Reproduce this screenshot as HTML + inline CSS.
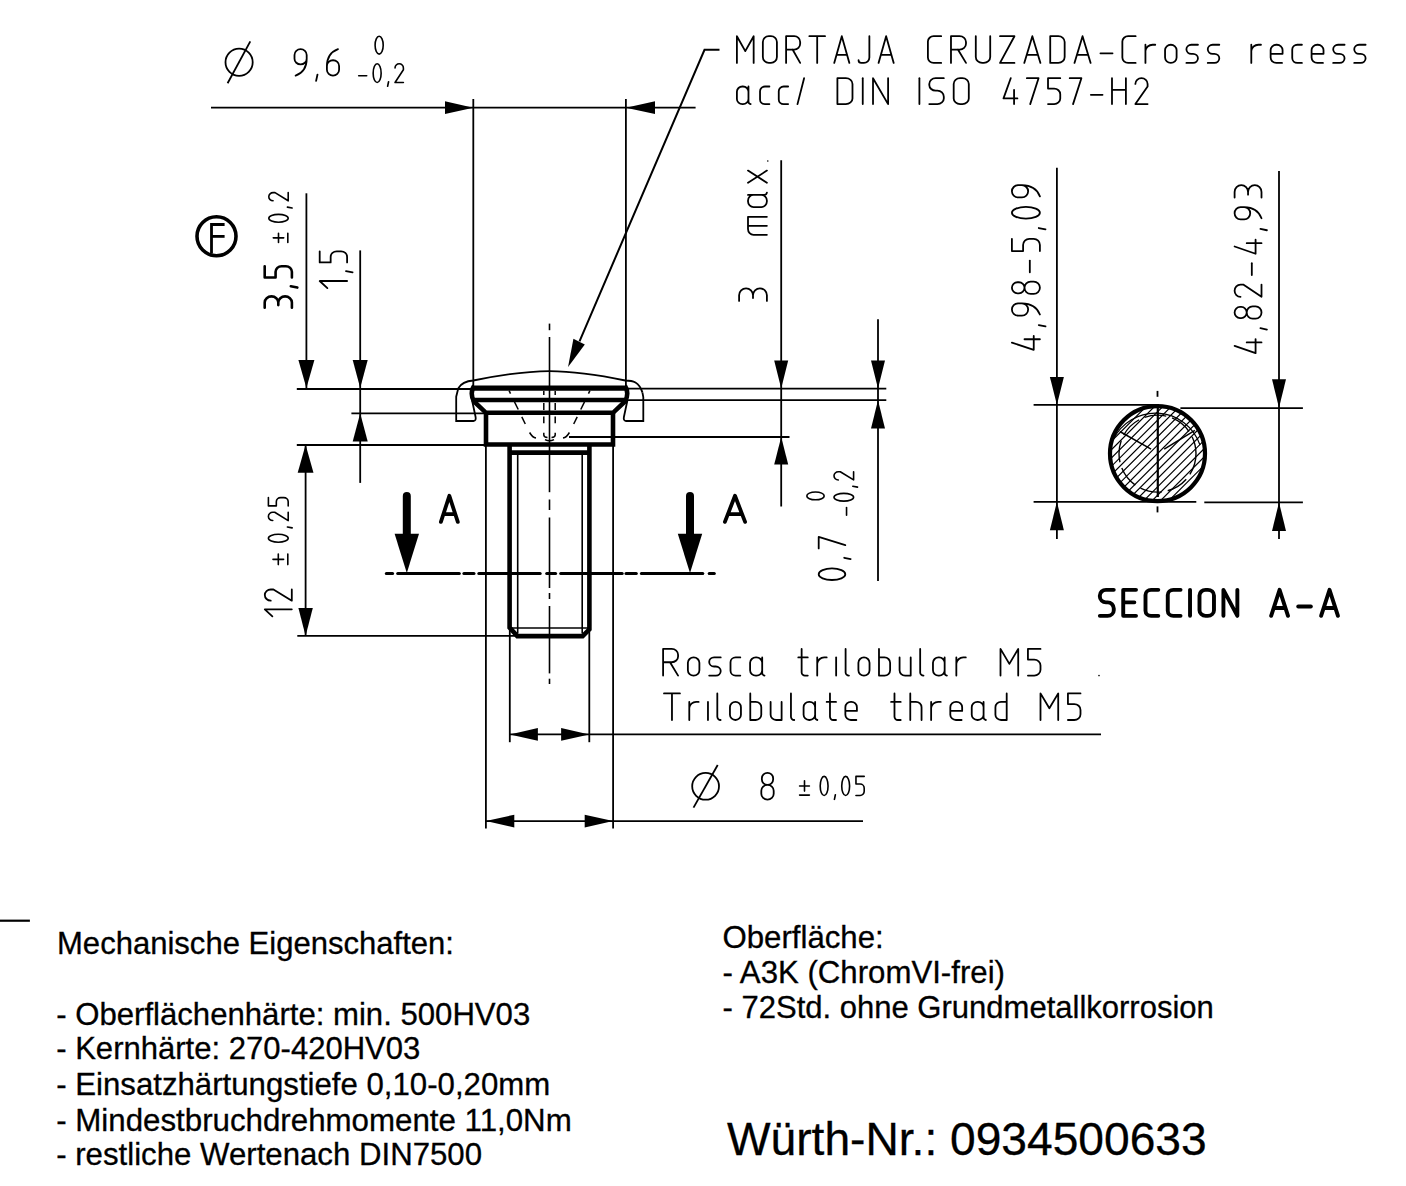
<!DOCTYPE html>
<html><head><meta charset="utf-8">
<style>
html,body{margin:0;padding:0;background:#fff;width:1406px;height:1186px;overflow:hidden}
svg{position:absolute;left:0;top:0}
svg line, svg path, svg circle{stroke:#000}
.t path{fill:none;vector-effect:non-scaling-stroke;stroke-linecap:round;stroke-linejoin:round}
.ah{fill:#000;stroke:none !important}
.txt{position:absolute;-webkit-text-stroke:0.3px #000;font-family:"Liberation Sans",sans-serif;color:#000;white-space:pre;line-height:1}
</style></head><body>
<svg width="1406" height="1186" viewBox="0 0 1406 1186">
<line x1="211" y1="107.7" x2="695.6" y2="107.7" stroke-width="1.8" />
<line x1="473.3" y1="99" x2="473.3" y2="386" stroke-width="1.8" />
<line x1="625.9" y1="99" x2="625.9" y2="386" stroke-width="1.8" />
<path class="ah" d="M473.3,107.7 L445,101.3 L445,114.10000000000001 Z"/>
<path class="ah" d="M625.9,107.7 L655,101.3 L655,114.10000000000001 Z"/>
<path d="M719.5,49.8 L704.5,49.8 L579.5,341.3" stroke-width="2" fill="none"/>
<path class="ah" d="M568.1,366.9 L573.4,338.8 L584.8,344.5 Z"/>
<circle cx="216.5" cy="236.2" r="19.5" fill="none" stroke-width="3.6"/>
<path d="M224.6,224.5 L211.5,224.5 L211.5,253.6" stroke-width="2.8" fill="none"/>
<line x1="211.5" y1="236.4" x2="224.6" y2="236.4" stroke-width="2.8" />
<line x1="306.4" y1="193.3" x2="306.4" y2="388" stroke-width="1.8" />
<path class="ah" d="M306.4,388 L298.4,360 L314.4,360 Z"/>
<line x1="360.2" y1="250.4" x2="360.2" y2="482.9" stroke-width="1.8" />
<path class="ah" d="M360.2,388 L352.7,360 L367.7,360 Z"/>
<path class="ah" d="M360.2,413.3 L352.7,441.5 L367.7,441.5 Z"/>
<line x1="296.8" y1="389" x2="471" y2="389" stroke-width="1.8" />
<line x1="351.4" y1="413.3" x2="486" y2="413.3" stroke-width="1.8" />
<line x1="296.8" y1="445" x2="486" y2="445" stroke-width="1.8" />
<line x1="305.6" y1="444.8" x2="305.6" y2="635.9" stroke-width="1.8" />
<path class="ah" d="M305.6,444.8 L297.70000000000005,472.7 L313.5,472.7 Z"/>
<path class="ah" d="M305.6,635.9 L298.40000000000003,608 L312.8,608 Z"/>
<line x1="297.3" y1="635.9" x2="517" y2="635.9" stroke-width="1.8" />
<line x1="627" y1="388.6" x2="886.3" y2="388.6" stroke-width="1.8" />
<line x1="627" y1="400.2" x2="886.3" y2="400.2" stroke-width="1.8" />
<line x1="569" y1="437" x2="789.5" y2="437" stroke-width="1.8" />
<line x1="781.2" y1="160.3" x2="781.2" y2="506.5" stroke-width="1.8" />
<path class="ah" d="M781.2,388.5 L774.2,360.6 L788.2,360.6 Z"/>
<path class="ah" d="M781.2,437 L774.2,464.5 L788.2,464.5 Z"/>
<line x1="878" y1="319.2" x2="878" y2="580.9" stroke-width="1.8" />
<path class="ah" d="M878,388.5 L871,360.6 L885,360.6 Z"/>
<path class="ah" d="M878,400.3 L871,428.6 L885,428.6 Z"/>
<line x1="485.9" y1="445" x2="485.9" y2="828.4" stroke-width="1.8" />
<line x1="613.1" y1="445" x2="613.1" y2="828.4" stroke-width="1.8" />
<line x1="509.8" y1="628" x2="509.8" y2="742.2" stroke-width="1.8" />
<line x1="589.3" y1="628" x2="589.3" y2="742.2" stroke-width="1.8" />
<line x1="509.8" y1="734.4" x2="1101" y2="734.4" stroke-width="1.8" />
<path class="ah" d="M509.8,734.4 L537.9,728.0 L537.9,740.8 Z"/>
<path class="ah" d="M589.3,734.4 L561.1,728.0 L561.1,740.8 Z"/>
<line x1="485.9" y1="821.1" x2="863" y2="821.1" stroke-width="1.8" />
<path class="ah" d="M485.9,821.1 L514.3,814.7 L514.3,827.5 Z"/>
<path class="ah" d="M613.1,821.1 L584.7,814.7 L584.7,827.5 Z"/>
<path d="M458.3,388.2 C461,383.5 467,381 473.3,380.5 C500,375 530,371.2 549.5,371.1 C569,371.2 599,375 625.3,380.5 C633,380.5 639,382 642.4,392.4" stroke-width="1.8" fill="none" />
<path d="M458.3,388.2 L456.2,396.7 L456.2,421 L473.5,421 C475.6,421 476,419 475.6,417 L472,400" stroke-width="1.8" fill="none" />
<path d="M642.4,392.4 L643.3,397 L643.3,421 L626,421 C623.9,421 623.5,419 623.9,417 L627.5,400" stroke-width="1.8" fill="none" />
<path d="M473.5,388.1 H625.5" stroke-width="5.1" fill="none" />
<path d="M473.5,400 H625.5" stroke-width="4.6" fill="none" />
<path d="M474,386 C471,390 471,397 474,401.5 L486,412.8 H613 L625,401.5 C628,397 628,390 625,386" stroke-width="4.6" fill="none" />
<path d="M486,412.8 V444.5 H613 V412.8" stroke-width="4.6" fill="none" />
<path d="M509.6,444.5 V627.6 L517.3,636.1 H582.6 L589.4,629.3 V444.5" stroke-width="4.6" fill="none" />
<line x1="509.6" y1="452.6" x2="589.4" y2="452.6" stroke-width="4.6" />
<line x1="509.6" y1="628" x2="589.4" y2="628" stroke-width="1.6" />
<line x1="517.7" y1="452.6" x2="517.7" y2="633.5" stroke-width="1.6" />
<line x1="582.2" y1="452.6" x2="582.2" y2="633.5" stroke-width="1.6" />
<line x1="543.8" y1="391" x2="543.8" y2="395" stroke-width="1.5" />
<line x1="543.8" y1="403" x2="543.8" y2="410" stroke-width="1.5" />
<line x1="543.8" y1="416.6" x2="543.8" y2="423.3" stroke-width="1.5" />
<path d="M543.8,432.8 V435 Q543.8,437.3 547.5,437.5" stroke-width="1.5" fill="none" />
<line x1="509.1" y1="390.7" x2="510.51" y2="393.6" stroke-width="1.5" />
<line x1="514.49" y1="401.8" x2="518.24" y2="409.5" stroke-width="1.5" />
<line x1="521.78" y1="416.8" x2="525.28" y2="424" stroke-width="1.5" />
<path d="M529.6,432.5 Q532.5,437.5 536.0,438.1" stroke-width="1.5" fill="none" />
<line x1="555.2" y1="391" x2="555.2" y2="395" stroke-width="1.5" />
<line x1="555.2" y1="403" x2="555.2" y2="410" stroke-width="1.5" />
<line x1="555.2" y1="416.6" x2="555.2" y2="423.3" stroke-width="1.5" />
<path d="M555.2,432.8 V435 Q555.2,437.3 551.5,437.5" stroke-width="1.5" fill="none" />
<line x1="589.9" y1="390.7" x2="588.49" y2="393.6" stroke-width="1.5" />
<line x1="584.51" y1="401.8" x2="580.76" y2="409.5" stroke-width="1.5" />
<line x1="577.22" y1="416.8" x2="573.72" y2="424" stroke-width="1.5" />
<path d="M569.4,432.5 Q566.5,437.5 563.0,438.1" stroke-width="1.5" fill="none" />
<path d="M545,439.6 Q549.5,442 554,439.6" stroke-width="1.5" fill="none" />
<line x1="549.5" y1="323.6" x2="549.5" y2="330.2" stroke-width="1.6" />
<line x1="549.5" y1="337" x2="549.5" y2="492.2" stroke-width="1.6" />
<line x1="549.5" y1="499.5" x2="549.5" y2="510" stroke-width="1.6" />
<line x1="549.5" y1="517.5" x2="549.5" y2="588" stroke-width="1.6" />
<line x1="549.5" y1="593" x2="549.5" y2="599" stroke-width="1.6" />
<line x1="549.5" y1="606" x2="549.5" y2="673.4" stroke-width="1.6" />
<line x1="549.5" y1="678.7" x2="549.5" y2="684" stroke-width="1.6" />
<line x1="386.3" y1="573.4" x2="392.6" y2="573.4" stroke-width="3" stroke-linecap="round"/>
<line x1="397.7" y1="573.4" x2="459.3" y2="573.4" stroke-width="3" stroke-linecap="round"/>
<line x1="463.9" y1="573.4" x2="474" y2="573.4" stroke-width="3" stroke-linecap="round"/>
<line x1="478.8" y1="573.4" x2="540.2" y2="573.4" stroke-width="3" stroke-linecap="round"/>
<line x1="546.7" y1="573.4" x2="555.6" y2="573.4" stroke-width="3" stroke-linecap="round"/>
<line x1="560.7" y1="573.4" x2="622.2" y2="573.4" stroke-width="3" stroke-linecap="round"/>
<line x1="626" y1="573.4" x2="636.3" y2="573.4" stroke-width="3" stroke-linecap="round"/>
<line x1="641.4" y1="573.4" x2="702.8" y2="573.4" stroke-width="3" stroke-linecap="round"/>
<line x1="709.2" y1="573.4" x2="714.3" y2="573.4" stroke-width="3" stroke-linecap="round"/>
<line x1="406.8" y1="496" x2="406.8" y2="535" stroke-width="8" stroke-linecap="round"/>
<path class="ah" d="M406.8,573 L394.6,533.7 L419.0,533.7 Z"/>
<line x1="690" y1="496" x2="690" y2="535" stroke-width="8" stroke-linecap="round"/>
<path class="ah" d="M690,573 L677.8,533.7 L702.2,533.7 Z"/>
<line x1="1056.9" y1="167.7" x2="1056.9" y2="539" stroke-width="1.8" />
<path class="ah" d="M1056.9,404.8 L1049.9,376.9 L1063.9,376.9 Z"/>
<path class="ah" d="M1056.9,501.8 L1049.9,530.3 L1063.9,530.3 Z"/>
<line x1="1279" y1="171" x2="1279" y2="539" stroke-width="1.8" />
<path class="ah" d="M1279,407.8 L1272,379.3 L1286,379.3 Z"/>
<path class="ah" d="M1279,502.4 L1272,530.9 L1286,530.9 Z"/>
<line x1="1033.6" y1="404.8" x2="1157.5" y2="404.8" stroke-width="1.8" />
<line x1="1180.4" y1="408.2" x2="1302.9" y2="408.2" stroke-width="1.8" />
<line x1="1033.6" y1="501.8" x2="1196.3" y2="501.8" stroke-width="1.8" />
<line x1="1204.3" y1="502.4" x2="1302.9" y2="502.4" stroke-width="1.8" />
<defs><clipPath id="cc"><circle cx="1157.5" cy="453.6" r="47"/></clipPath></defs>
<path clip-path="url(#cc)" d="M1097.5,346.72322 L1217.5,226.72322000000003 M1097.5,355.067059 L1217.5,235.067059 M1097.5,363.41089800000003 L1217.5,243.41089800000003 M1097.5,371.754737 L1217.5,251.754737 M1097.5,380.098576 L1217.5,260.098576 M1097.5,388.44241500000004 L1217.5,268.44241500000004 M1097.5,396.786254 L1217.5,276.786254 M1097.5,405.130093 L1217.5,285.130093 M1097.5,413.473932 L1217.5,293.473932 M1097.5,421.817771 L1217.5,301.817771 M1097.5,430.16161 L1217.5,310.16161 M1097.5,438.505449 L1217.5,318.505449 M1097.5,446.849288 L1217.5,326.849288 M1097.5,455.193127 L1217.5,335.193127 M1097.5,463.536966 L1217.5,343.536966 M1097.5,471.880805 L1217.5,351.880805 M1097.5,480.224644 L1217.5,360.224644 M1097.5,488.568483 L1217.5,368.568483 M1097.5,496.912322 L1217.5,376.912322 M1097.5,505.256161 L1217.5,385.256161 M1097.5,513.6 L1217.5,393.6 M1097.5,521.943839 L1217.5,401.943839 M1097.5,530.287678 L1217.5,410.287678 M1097.5,538.631517 L1217.5,418.63151700000003 M1097.5,546.975356 L1217.5,426.97535600000003 M1097.5,555.319195 L1217.5,435.31919500000004 M1097.5,563.663034 L1217.5,443.66303400000004 M1097.5,572.006873 L1217.5,452.00687300000004 M1097.5,580.350712 L1217.5,460.35071200000004 M1097.5,588.694551 L1217.5,468.69455100000005 M1097.5,597.03839 L1217.5,477.03839000000005 M1097.5,605.382229 L1217.5,485.38222900000005 M1097.5,613.726068 L1217.5,493.72606800000005 M1097.5,622.0699070000001 L1217.5,502.06990700000006 M1097.5,630.4137460000001 L1217.5,510.41374600000006 M1097.5,638.7575850000001 L1217.5,518.7575850000001 M1097.5,647.1014240000001 L1217.5,527.1014240000001 M1097.5,655.4452630000001 L1217.5,535.4452630000001 M1097.5,663.789102 L1217.5,543.789102 M1097.5,672.1329410000001 L1217.5,552.1329410000001 M1097.5,680.47678 L1217.5,560.47678" stroke-width="1.2" fill="none"/>
<circle cx="1157.5" cy="453.6" r="47.5" fill="none" stroke-width="4.2"/>
<path d="M1113,440 A47,47 0 0 1 1200,445" stroke-width="1.2" fill="none" />
<circle cx="1157.5" cy="453.6" r="38.5" fill="none" stroke-width="1.4" stroke-dasharray="22,6"/>
<line x1="1157.8" y1="404" x2="1157.8" y2="497" stroke-width="2.2" />
<line x1="1157.5" y1="390.9" x2="1157.5" y2="396.8" stroke-width="1.8" />
<line x1="1157.5" y1="506.4" x2="1157.5" y2="512.4" stroke-width="1.8" />
<line x1="1151.1" y1="449.2" x2="1119.8" y2="431.5" stroke-width="1.5" />
<line x1="1164.2" y1="449.2" x2="1194.9" y2="430.4" stroke-width="1.5" />
<circle cx="1099" cy="675.6" r="0.8" fill="#000" style="stroke:none"/>
<circle cx="767.8" cy="161" r="0.8" fill="#000" style="stroke:none"/>
<line x1="0" y1="920.7" x2="29.9" y2="920.7" stroke-width="2.2" />
<g class="t" stroke-width="1.8" transform="translate(736.90,62.90) scale(27.0345,26.7000)"><path transform="translate(0.0000,0)" d="M0,0 V-1 L0.31,-0.44 L0.62,-1 V0"/><path transform="translate(0.9600,0)" d="M0.22,-1 H0.30000000000000004 A0.22,0.22 0 0 1 0.52,-0.78 V-0.22 A0.22,0.22 0 0 1 0.30000000000000004,0 H0.22 A0.22,0.22 0 0 1 0,-0.22 V-0.78 A0.22,0.22 0 0 1 0.22,-1 Z"/><path transform="translate(1.8200,0)" d="M0,0 V-1 H0.3 A0.22,0.22 0 0 1 0.52,-0.78 V-0.72 A0.22,0.22 0 0 1 0.3,-0.5 H0 M0.24,-0.5 L0.52,0"/><path transform="translate(2.6800,0)" d="M0,-1 H0.58 M0.29,-1 V0"/><path transform="translate(3.6000,0)" d="M0,0 L0.28,-1 L0.56,0 M0.085,-0.3 H0.475"/><path transform="translate(4.5000,0)" d="M0.4,-1 V-0.2 A0.2,0.2 0 0 1 0.2,0 H0.1 A0.1,0.1 0 0 1 0,-0.1"/><path transform="translate(5.2400,0)" d="M0,0 L0.28,-1 L0.56,0 M0.085,-0.3 H0.475"/></g>
<g class="t" stroke-width="1.8" transform="translate(927.90,62.90) scale(28.8515,26.7000)"><path transform="translate(0.0000,0)" d="M0.46,-1 H0.2 A0.2,0.2 0 0 0 0,-0.8 V-0.2 A0.2,0.2 0 0 0 0.2,0 H0.46"/><path transform="translate(0.8000,0)" d="M0,0 V-1 H0.3 A0.22,0.22 0 0 1 0.52,-0.78 V-0.72 A0.22,0.22 0 0 1 0.3,-0.5 H0 M0.24,-0.5 L0.52,0"/><path transform="translate(1.6600,0)" d="M0,-1 V-0.22 A0.22,0.22 0 0 0 0.22,0 H0.28 A0.22,0.22 0 0 0 0.5,-0.22 V-1"/><path transform="translate(2.5000,0)" d="M0,-1 H0.5 L0,0 H0.5"/><path transform="translate(3.3400,0)" d="M0,0 L0.28,-1 L0.56,0 M0.085,-0.3 H0.475"/><path transform="translate(4.2400,0)" d="M0,0 V-1 H0.28 A0.22,0.22 0 0 1 0.5,-0.78 V-0.22 A0.22,0.22 0 0 1 0.28,0 Z"/><path transform="translate(5.0800,0)" d="M0,0 L0.28,-1 L0.56,0 M0.085,-0.3 H0.475"/><path transform="translate(5.9800,0)" d="M0,-0.36 H0.42"/><path transform="translate(6.7400,0)" d="M0.46,-1 H0.2 A0.2,0.2 0 0 0 0,-0.8 V-0.2 A0.2,0.2 0 0 0 0.2,0 H0.46"/><path transform="translate(7.5400,0)" d="M0,0 V-0.68 M0,-0.45 A0.25,0.25 0 0 1 0.25,-0.68 H0.34"/><path transform="translate(8.2200,0)" d="M0.2,-0.68 H0.2 A0.2,0.2 0 0 1 0.4,-0.48000000000000004 V-0.2 A0.2,0.2 0 0 1 0.2,0 H0.2 A0.2,0.2 0 0 1 0,-0.2 V-0.48000000000000004 A0.2,0.2 0 0 1 0.2,-0.68 Z"/><path transform="translate(8.9600,0)" d="M0.4,-0.68 H0.17 A0.17,0.17 0 0 0 0,-0.51 A0.17,0.17 0 0 0 0.17,-0.34 H0.23 A0.17,0.17 0 0 1 0.4,-0.17 A0.17,0.17 0 0 1 0.23,0 H0"/><path transform="translate(9.7000,0)" d="M0.4,-0.68 H0.17 A0.17,0.17 0 0 0 0,-0.51 A0.17,0.17 0 0 0 0.17,-0.34 H0.23 A0.17,0.17 0 0 1 0.4,-0.17 A0.17,0.17 0 0 1 0.23,0 H0"/></g>
<g class="t" stroke-width="1.8" transform="translate(1251.30,62.90) scale(28.4328,26.7000)"><path transform="translate(0.0000,0)" d="M0,0 V-0.68 M0,-0.45 A0.25,0.25 0 0 1 0.25,-0.68 H0.34"/><path transform="translate(0.6800,0)" d="M0,-0.34 H0.42 V-0.48 A0.2,0.2 0 0 0 0.22,-0.68 H0.2 A0.2,0.2 0 0 0 0,-0.48 V-0.2 A0.2,0.2 0 0 0 0.2,0 H0.4"/><path transform="translate(1.4400,0)" d="M0.34,-0.68 H0.18 A0.18,0.18 0 0 0 0,-0.5 V-0.18 A0.18,0.18 0 0 0 0.18,0 H0.34"/><path transform="translate(2.1200,0)" d="M0,-0.34 H0.42 V-0.48 A0.2,0.2 0 0 0 0.22,-0.68 H0.2 A0.2,0.2 0 0 0 0,-0.48 V-0.2 A0.2,0.2 0 0 0 0.2,0 H0.4"/><path transform="translate(2.8800,0)" d="M0.4,-0.68 H0.17 A0.17,0.17 0 0 0 0,-0.51 A0.17,0.17 0 0 0 0.17,-0.34 H0.23 A0.17,0.17 0 0 1 0.4,-0.17 A0.17,0.17 0 0 1 0.23,0 H0"/><path transform="translate(3.6200,0)" d="M0.4,-0.68 H0.17 A0.17,0.17 0 0 0 0,-0.51 A0.17,0.17 0 0 0 0.17,-0.34 H0.23 A0.17,0.17 0 0 1 0.4,-0.17 A0.17,0.17 0 0 1 0.23,0 H0"/></g>
<g class="t" stroke-width="1.8" transform="translate(736.90,104.10) scale(27.5410,25.9000)"><path transform="translate(0.0000,0)" d="M0.42,-0.48 A0.2,0.2 0 0 0 0.22,-0.68 H0.2 A0.2,0.2 0 0 0 0,-0.48 V-0.2 A0.2,0.2 0 0 0 0.2,0 H0.22 A0.2,0.2 0 0 0 0.42,-0.2 M0.42,-0.68 V-0.1 A0.1,0.1 0 0 0 0.5,0"/><path transform="translate(0.8400,0)" d="M0.34,-0.68 H0.18 A0.18,0.18 0 0 0 0,-0.5 V-0.18 A0.18,0.18 0 0 0 0.18,0 H0.34"/><path transform="translate(1.5200,0)" d="M0.34,-0.68 H0.18 A0.18,0.18 0 0 0 0,-0.5 V-0.18 A0.18,0.18 0 0 0 0.18,0 H0.34"/><path transform="translate(2.2000,0)" d="M0,0 L0.24,-1"/></g>
<g class="t" stroke-width="1.8" transform="translate(837.40,104.10) scale(30.1786,25.9000)"><path transform="translate(0.0000,0)" d="M0,0 V-1 H0.28 A0.22,0.22 0 0 1 0.5,-0.78 V-0.22 A0.22,0.22 0 0 1 0.28,0 Z"/><path transform="translate(0.8400,0)" d="M0,0 V-1"/><path transform="translate(1.1800,0)" d="M0,0 V-1 L0.5,0 V-1"/></g>
<g class="t" stroke-width="1.8" transform="translate(919.40,104.10) scale(29.0588,25.9000)"><path transform="translate(0.0000,0)" d="M0,0 V-1"/><path transform="translate(0.3400,0)" d="M0.5,-1 H0.22 A0.22,0.22 0 0 0 0,-0.78 V-0.74 A0.22,0.22 0 0 0 0.22,-0.52 H0.28 A0.22,0.24 0 0 1 0.5,-0.28 V-0.22 A0.22,0.22 0 0 1 0.28,0 H0"/><path transform="translate(1.1800,0)" d="M0.22,-1 H0.30000000000000004 A0.22,0.22 0 0 1 0.52,-0.78 V-0.22 A0.22,0.22 0 0 1 0.30000000000000004,0 H0.22 A0.22,0.22 0 0 1 0,-0.22 V-0.78 A0.22,0.22 0 0 1 0.22,-1 Z"/></g>
<g class="t" stroke-width="1.8" transform="translate(1003.50,104.10) scale(27.8185,25.9000)"><path transform="translate(0.0000,0)" d="M0.26,-1 L0,-0.22 H0.5 M0.38,-0.55 V0"/><path transform="translate(0.8400,0)" d="M0,-1 H0.42 L0.12,0"/><path transform="translate(1.6000,0)" d="M0.44,-1 H0 V-0.6 H0.22 A0.22,0.22 0 0 1 0.44,-0.38 V-0.22 A0.22,0.22 0 0 1 0.22,0 H0"/><path transform="translate(2.3800,0)" d="M0,-1 H0.42 L0.12,0"/><path transform="translate(3.1400,0)" d="M0,-0.36 H0.42"/><path transform="translate(3.9000,0)" d="M0,0 V-1 M0.5,0 V-1 M0,-0.55 H0.5"/><path transform="translate(4.7400,0)" d="M0,-0.78 A0.22,0.22 0 0 1 0.22,-1 A0.22,0.22 0 0 1 0.44,-0.78 V-0.68 L0,0 H0.44"/></g>
<g class="t" stroke-width="1.8" transform="translate(294.50,75.60) scale(27.7019,26.5000)"><path transform="translate(0.0000,0)" d="M0.04,0 C0.29,-0.1 0.44,-0.3 0.44,-0.64 M0.44,-0.78 V-0.64 A0.22,0.22 0 0 1 0.22,-0.42 A0.22,0.22 0 0 1 0,-0.64 V-0.78 A0.22,0.22 0 0 1 0.22,-1 A0.22,0.22 0 0 1 0.44,-0.78"/><path transform="translate(0.7800,0)" d="M0.05,-0.04 L0,0.2"/><path transform="translate(1.1700,0)" d="M0.4,-1 C0.15,-0.9 0,-0.7 0,-0.36 M0,-0.22 V-0.36 A0.22,0.22 0 0 1 0.22,-0.58 A0.22,0.22 0 0 1 0.44,-0.36 V-0.22 A0.22,0.22 0 0 1 0.22,0 A0.22,0.22 0 0 1 0,-0.22"/></g>
<g class="t" stroke-width="1.6" transform="translate(375.10,54.10) scale(19.2857,17.8000)"><path transform="translate(0.0000,0)" d="M0.21,-1 A0.21,0.5 0 0 1 0.21,0 A0.21,0.5 0 0 1 0.21,-1 Z"/></g>
<g class="t" stroke-width="1.6" transform="translate(358.70,82.50) scale(19.0213,18.7000)"><path transform="translate(0.0000,0)" d="M0,-0.36 H0.42"/><path transform="translate(0.7600,0)" d="M0.21,-1 A0.21,0.5 0 0 1 0.21,0 A0.21,0.5 0 0 1 0.21,-1 Z"/><path transform="translate(1.5200,0)" d="M0.05,-0.04 L0,0.2"/><path transform="translate(1.9100,0)" d="M0,-0.78 A0.22,0.22 0 0 1 0.22,-1 A0.22,0.22 0 0 1 0.44,-0.78 V-0.68 L0,0 H0.44"/></g>
<circle cx="239.1" cy="62.3" r="13.6" fill="none" stroke-width="1.8"/>
<line x1="227.6" y1="83.3" x2="250.3" y2="41.4" stroke-width="1.8" />
<circle cx="705.6" cy="786.3" r="13.4" fill="none" stroke-width="1.8"/>
<line x1="693.5" y1="807.6" x2="717.7" y2="765" stroke-width="1.8" />
<g class="t" stroke-width="1.8" transform="translate(761.30,799.60) scale(28.1818,26.7000)"><path transform="translate(0.0000,0)" d="M0.22,-1 H0.21999999999999997 A0.2,0.2 0 0 1 0.42,-0.8 V-0.75 A0.2,0.2 0 0 1 0.21999999999999997,-0.55 H0.22 A0.2,0.2 0 0 1 0.02,-0.75 V-0.8 A0.2,0.2 0 0 1 0.22,-1 Z M0.22,-0.55 H0.22 A0.22,0.22 0 0 1 0.44,-0.33000000000000007 V-0.22 A0.22,0.22 0 0 1 0.22,0 H0.22 A0.22,0.22 0 0 1 0,-0.22 V-0.33000000000000007 A0.22,0.22 0 0 1 0.22,-0.55 Z"/></g>
<g class="t" stroke-width="1.6" transform="translate(799.60,795.50) scale(23.3333,19.1000)"><path transform="translate(0.0000,0)" d="M0,-0.5 H0.42 M0.21,-0.77 V-0.23 M0,-0.02 H0.42"/></g>
<g class="t" stroke-width="1.6" transform="translate(820.20,795.50) scale(18.7234,19.1000)"><path transform="translate(0.0000,0)" d="M0.21,-1 A0.21,0.5 0 0 1 0.21,0 A0.21,0.5 0 0 1 0.21,-1 Z"/><path transform="translate(0.7600,0)" d="M0.05,-0.04 L0,0.2"/><path transform="translate(1.1500,0)" d="M0.21,-1 A0.21,0.5 0 0 1 0.21,0 A0.21,0.5 0 0 1 0.21,-1 Z"/><path transform="translate(1.9100,0)" d="M0.44,-1 H0 V-0.6 H0.22 A0.22,0.22 0 0 1 0.44,-0.38 V-0.22 A0.22,0.22 0 0 1 0.22,0 H0"/></g>
<g class="t" stroke-width="1.8" transform="translate(663.10,675.60) scale(28.8068,26.7000)"><path transform="translate(0.0000,0)" d="M0,0 V-1 H0.3 A0.22,0.22 0 0 1 0.52,-0.78 V-0.72 A0.22,0.22 0 0 1 0.3,-0.5 H0 M0.24,-0.5 L0.52,0"/><path transform="translate(0.8600,0)" d="M0.2,-0.68 H0.2 A0.2,0.2 0 0 1 0.4,-0.48000000000000004 V-0.2 A0.2,0.2 0 0 1 0.2,0 H0.2 A0.2,0.2 0 0 1 0,-0.2 V-0.48000000000000004 A0.2,0.2 0 0 1 0.2,-0.68 Z"/><path transform="translate(1.6000,0)" d="M0.4,-0.68 H0.17 A0.17,0.17 0 0 0 0,-0.51 A0.17,0.17 0 0 0 0.17,-0.34 H0.23 A0.17,0.17 0 0 1 0.4,-0.17 A0.17,0.17 0 0 1 0.23,0 H0"/><path transform="translate(2.3400,0)" d="M0.34,-0.68 H0.18 A0.18,0.18 0 0 0 0,-0.5 V-0.18 A0.18,0.18 0 0 0 0.18,0 H0.34"/><path transform="translate(3.0200,0)" d="M0.42,-0.48 A0.2,0.2 0 0 0 0.22,-0.68 H0.2 A0.2,0.2 0 0 0 0,-0.48 V-0.2 A0.2,0.2 0 0 0 0.2,0 H0.22 A0.2,0.2 0 0 0 0.42,-0.2 M0.42,-0.68 V-0.1 A0.1,0.1 0 0 0 0.5,0"/></g>
<g class="t" stroke-width="1.8" transform="translate(798.30,675.60) scale(27.8239,26.7000)"><path transform="translate(0.0000,0)" d="M0.12,-1 V-0.12 A0.12,0.12 0 0 0 0.24,0 H0.34 M0,-0.68 H0.34"/><path transform="translate(0.6800,0)" d="M0,0 V-0.68 M0,-0.45 A0.25,0.25 0 0 1 0.25,-0.68 H0.34"/><path transform="translate(1.3600,0)" d="M0,-0.68 V0"/><path transform="translate(1.7000,0)" d="M0,-1 V-0.12 A0.12,0.12 0 0 0 0.12,0"/><path transform="translate(2.1600,0)" d="M0.2,-0.68 H0.2 A0.2,0.2 0 0 1 0.4,-0.48000000000000004 V-0.2 A0.2,0.2 0 0 1 0.2,0 H0.2 A0.2,0.2 0 0 1 0,-0.2 V-0.48000000000000004 A0.2,0.2 0 0 1 0.2,-0.68 Z"/><path transform="translate(2.9000,0)" d="M0,-1 V0 H0.2 A0.2,0.2 0 0 0 0.4,-0.2 V-0.48 A0.2,0.2 0 0 0 0.2,-0.68 H0"/><path transform="translate(3.6400,0)" d="M0,-0.68 V-0.2 A0.2,0.2 0 0 0 0.2,0 H0.4 M0.4,-0.68 V0"/><path transform="translate(4.3800,0)" d="M0,-1 V-0.12 A0.12,0.12 0 0 0 0.12,0"/><path transform="translate(4.8400,0)" d="M0.42,-0.48 A0.2,0.2 0 0 0 0.22,-0.68 H0.2 A0.2,0.2 0 0 0 0,-0.48 V-0.2 A0.2,0.2 0 0 0 0.2,0 H0.22 A0.2,0.2 0 0 0 0.42,-0.2 M0.42,-0.68 V-0.1 A0.1,0.1 0 0 0 0.5,0"/><path transform="translate(5.6800,0)" d="M0,0 V-0.68 M0,-0.45 A0.25,0.25 0 0 1 0.25,-0.68 H0.34"/></g>
<g class="t" stroke-width="1.8" transform="translate(1000.50,675.60) scale(28.5714,26.7000)"><path transform="translate(0.0000,0)" d="M0,0 V-1 L0.31,-0.44 L0.62,-1 V0"/><path transform="translate(0.9600,0)" d="M0.44,-1 H0 V-0.6 H0.22 A0.22,0.22 0 0 1 0.44,-0.38 V-0.22 A0.22,0.22 0 0 1 0.22,0 H0"/></g>
<g class="t" stroke-width="1.8" transform="translate(664.00,720.00) scale(27.4786,26.6000)"><path transform="translate(0.0000,0)" d="M0,-1 H0.58 M0.29,-1 V0"/><path transform="translate(0.9200,0)" d="M0,0 V-0.68 M0,-0.45 A0.25,0.25 0 0 1 0.25,-0.68 H0.34"/><path transform="translate(1.6000,0)" d="M0,-0.68 V0"/><path transform="translate(1.9400,0)" d="M0,-1 V-0.12 A0.12,0.12 0 0 0 0.12,0"/><path transform="translate(2.4000,0)" d="M0.2,-0.68 H0.2 A0.2,0.2 0 0 1 0.4,-0.48000000000000004 V-0.2 A0.2,0.2 0 0 1 0.2,0 H0.2 A0.2,0.2 0 0 1 0,-0.2 V-0.48000000000000004 A0.2,0.2 0 0 1 0.2,-0.68 Z"/><path transform="translate(3.1400,0)" d="M0,-1 V0 H0.2 A0.2,0.2 0 0 0 0.4,-0.2 V-0.48 A0.2,0.2 0 0 0 0.2,-0.68 H0"/><path transform="translate(3.8800,0)" d="M0,-0.68 V-0.2 A0.2,0.2 0 0 0 0.2,0 H0.4 M0.4,-0.68 V0"/><path transform="translate(4.6200,0)" d="M0,-1 V-0.12 A0.12,0.12 0 0 0 0.12,0"/><path transform="translate(5.0800,0)" d="M0.42,-0.48 A0.2,0.2 0 0 0 0.22,-0.68 H0.2 A0.2,0.2 0 0 0 0,-0.48 V-0.2 A0.2,0.2 0 0 0 0.2,0 H0.22 A0.2,0.2 0 0 0 0.42,-0.2 M0.42,-0.68 V-0.1 A0.1,0.1 0 0 0 0.5,0"/><path transform="translate(5.9200,0)" d="M0.12,-1 V-0.12 A0.12,0.12 0 0 0 0.24,0 H0.34 M0,-0.68 H0.34"/><path transform="translate(6.6000,0)" d="M0,-0.34 H0.42 V-0.48 A0.2,0.2 0 0 0 0.22,-0.68 H0.2 A0.2,0.2 0 0 0 0,-0.48 V-0.2 A0.2,0.2 0 0 0 0.2,0 H0.4"/></g>
<g class="t" stroke-width="1.8" transform="translate(891.10,720.00) scale(28.1951,26.6000)"><path transform="translate(0.0000,0)" d="M0.12,-1 V-0.12 A0.12,0.12 0 0 0 0.24,0 H0.34 M0,-0.68 H0.34"/><path transform="translate(0.6800,0)" d="M0,-1 V0 M0,-0.68 H0.2 A0.2,0.2 0 0 1 0.4,-0.48 V0"/><path transform="translate(1.4200,0)" d="M0,0 V-0.68 M0,-0.45 A0.25,0.25 0 0 1 0.25,-0.68 H0.34"/><path transform="translate(2.1000,0)" d="M0,-0.34 H0.42 V-0.48 A0.2,0.2 0 0 0 0.22,-0.68 H0.2 A0.2,0.2 0 0 0 0,-0.48 V-0.2 A0.2,0.2 0 0 0 0.2,0 H0.4"/><path transform="translate(2.8600,0)" d="M0.42,-0.48 A0.2,0.2 0 0 0 0.22,-0.68 H0.2 A0.2,0.2 0 0 0 0,-0.48 V-0.2 A0.2,0.2 0 0 0 0.2,0 H0.22 A0.2,0.2 0 0 0 0.42,-0.2 M0.42,-0.68 V-0.1 A0.1,0.1 0 0 0 0.5,0"/><path transform="translate(3.7000,0)" d="M0.4,-1 V0 H0.2 A0.2,0.2 0 0 1 0,-0.2 V-0.48 A0.2,0.2 0 0 1 0.2,-0.68 H0.4"/></g>
<g class="t" stroke-width="1.8" transform="translate(1040.50,720.00) scale(28.5714,26.6000)"><path transform="translate(0.0000,0)" d="M0,0 V-1 L0.31,-0.44 L0.62,-1 V0"/><path transform="translate(0.9600,0)" d="M0.44,-1 H0 V-0.6 H0.22 A0.22,0.22 0 0 1 0.44,-0.38 V-0.22 A0.22,0.22 0 0 1 0.22,0 H0"/></g>
<g class="t" stroke-width="2.6" transform="translate(291.90,307.70) rotate(-90) scale(25.7764,27.2000)"><path transform="translate(0.0000,0)" d="M0,-1 H0.2 A0.24,0.25 0 0 1 0.2,-0.5 H0.1 M0.2,-0.5 A0.24,0.25 0 0 1 0.2,0 H0"/><path transform="translate(0.7800,0)" d="M0.05,-0.04 L0,0.2"/><path transform="translate(1.1700,0)" d="M0.44,-1 H0 V-0.6 H0.22 A0.22,0.22 0 0 1 0.44,-0.38 V-0.22 A0.22,0.22 0 0 1 0.22,0 H0"/></g>
<g class="t" stroke-width="1.6" transform="translate(288.20,242.40) rotate(-90) scale(21.6667,19.4000)"><path transform="translate(0.0000,0)" d="M0,-0.5 H0.42 M0.21,-0.77 V-0.23 M0,-0.02 H0.42"/></g>
<g class="t" stroke-width="1.6" transform="translate(288.20,222.20) rotate(-90) scale(18.6164,19.4000)"><path transform="translate(0.0000,0)" d="M0.21,-1 A0.21,0.5 0 0 1 0.21,0 A0.21,0.5 0 0 1 0.21,-1 Z"/><path transform="translate(0.7600,0)" d="M0.05,-0.04 L0,0.2"/><path transform="translate(1.1500,0)" d="M0,-0.78 A0.22,0.22 0 0 1 0.22,-1 A0.22,0.22 0 0 1 0.44,-0.78 V-0.68 L0,0 H0.44"/></g>
<g class="t" stroke-width="1.8" transform="translate(347.10,288.10) rotate(-90) scale(25.3793,27.4000)"><path transform="translate(0.0000,0)" d="M0,-0.72 L0.28,-1 V0"/><path transform="translate(0.6200,0)" d="M0.05,-0.04 L0,0.2"/><path transform="translate(1.0100,0)" d="M0.44,-1 H0 V-0.6 H0.22 A0.22,0.22 0 0 1 0.44,-0.38 V-0.22 A0.22,0.22 0 0 1 0.22,0 H0"/></g>
<g class="t" stroke-width="1.8" transform="translate(291.80,616.40) rotate(-90) scale(25.3774,27.0000)"><path transform="translate(0.0000,0)" d="M0,-0.72 L0.28,-1 V0"/><path transform="translate(0.6200,0)" d="M0,-0.78 A0.22,0.22 0 0 1 0.22,-1 A0.22,0.22 0 0 1 0.44,-0.78 V-0.68 L0,0 H0.44"/></g>
<g class="t" stroke-width="1.6" transform="translate(288.20,564.60) rotate(-90) scale(25.0000,19.8000)"><path transform="translate(0.0000,0)" d="M0,-0.5 H0.42 M0.21,-0.77 V-0.23 M0,-0.02 H0.42"/></g>
<g class="t" stroke-width="1.6" transform="translate(288.20,542.20) rotate(-90) scale(18.8186,19.8000)"><path transform="translate(0.0000,0)" d="M0.21,-1 A0.21,0.5 0 0 1 0.21,0 A0.21,0.5 0 0 1 0.21,-1 Z"/><path transform="translate(0.7600,0)" d="M0.05,-0.04 L0,0.2"/><path transform="translate(1.1500,0)" d="M0,-0.78 A0.22,0.22 0 0 1 0.22,-1 A0.22,0.22 0 0 1 0.44,-0.78 V-0.68 L0,0 H0.44"/><path transform="translate(1.9300,0)" d="M0.44,-1 H0 V-0.6 H0.22 A0.22,0.22 0 0 1 0.44,-0.38 V-0.22 A0.22,0.22 0 0 1 0.22,0 H0"/></g>
<g class="t" stroke-width="1.8" transform="translate(766.90,300.90) rotate(-90) scale(28.6364,27.8000)"><path transform="translate(0.0000,0)" d="M0,-1 H0.2 A0.24,0.25 0 0 1 0.2,-0.5 H0.1 M0.2,-0.5 A0.24,0.25 0 0 1 0.2,0 H0"/></g>
<g class="t" stroke-width="1.8" transform="translate(766.90,234.80) rotate(-90) scale(28.9189,27.8000)"><path transform="translate(0.0000,0)" d="M0,0 V-0.48 A0.2,0.2 0 0 1 0.2,-0.68 H0.62 V0 M0.31,-0.68 V0"/><path transform="translate(0.9600,0)" d="M0.42,-0.48 A0.2,0.2 0 0 0 0.22,-0.68 H0.2 A0.2,0.2 0 0 0 0,-0.48 V-0.2 A0.2,0.2 0 0 0 0.2,0 H0.22 A0.2,0.2 0 0 0 0.42,-0.2 M0.42,-0.68 V-0.1 A0.1,0.1 0 0 0 0.5,0"/><path transform="translate(1.8000,0)" d="M0,-0.68 L0.42,0 M0.42,-0.68 L0,0"/></g>
<g class="t" stroke-width="1.8" transform="translate(845.30,580.00) rotate(-90) scale(27.4522,26.6000)"><path transform="translate(0.0000,0)" d="M0.21,-1 A0.21,0.5 0 0 1 0.21,0 A0.21,0.5 0 0 1 0.21,-1 Z"/><path transform="translate(0.7600,0)" d="M0.05,-0.04 L0,0.2"/><path transform="translate(1.1500,0)" d="M0,-1 H0.42 L0.12,0"/></g>
<g class="t" stroke-width="1.6" transform="translate(824.20,499.80) rotate(-90) scale(18.5714,17.4000)"><path transform="translate(0.0000,0)" d="M0.21,-1 A0.21,0.5 0 0 1 0.21,0 A0.21,0.5 0 0 1 0.21,-1 Z"/></g>
<g class="t" stroke-width="1.6" transform="translate(853.60,515.20) rotate(-90) scale(18.4681,19.6000)"><path transform="translate(0.0000,0)" d="M0,-0.36 H0.42"/><path transform="translate(0.7600,0)" d="M0.21,-1 A0.21,0.5 0 0 1 0.21,0 A0.21,0.5 0 0 1 0.21,-1 Z"/><path transform="translate(1.5200,0)" d="M0.05,-0.04 L0,0.2"/><path transform="translate(1.9100,0)" d="M0,-0.78 A0.22,0.22 0 0 1 0.22,-1 A0.22,0.22 0 0 1 0.44,-0.78 V-0.68 L0,0 H0.44"/></g>
<g class="t" stroke-width="1.8" transform="translate(1039.90,349.80) rotate(-90) scale(27.8041,28.0000)"><path transform="translate(0.0000,0)" d="M0.26,-1 L0,-0.22 H0.5 M0.38,-0.55 V0"/><path transform="translate(0.8400,0)" d="M0.05,-0.04 L0,0.2"/><path transform="translate(1.2300,0)" d="M0.04,0 C0.29,-0.1 0.44,-0.3 0.44,-0.64 M0.44,-0.78 V-0.64 A0.22,0.22 0 0 1 0.22,-0.42 A0.22,0.22 0 0 1 0,-0.64 V-0.78 A0.22,0.22 0 0 1 0.22,-1 A0.22,0.22 0 0 1 0.44,-0.78"/><path transform="translate(2.0100,0)" d="M0.22,-1 H0.21999999999999997 A0.2,0.2 0 0 1 0.42,-0.8 V-0.75 A0.2,0.2 0 0 1 0.21999999999999997,-0.55 H0.22 A0.2,0.2 0 0 1 0.02,-0.75 V-0.8 A0.2,0.2 0 0 1 0.22,-1 Z M0.22,-0.55 H0.22 A0.22,0.22 0 0 1 0.44,-0.33000000000000007 V-0.22 A0.22,0.22 0 0 1 0.22,0 H0.22 A0.22,0.22 0 0 1 0,-0.22 V-0.33000000000000007 A0.22,0.22 0 0 1 0.22,-0.55 Z"/><path transform="translate(2.7900,0)" d="M0,-0.36 H0.42"/><path transform="translate(3.5500,0)" d="M0.44,-1 H0 V-0.6 H0.22 A0.22,0.22 0 0 1 0.44,-0.38 V-0.22 A0.22,0.22 0 0 1 0.22,0 H0"/><path transform="translate(4.3300,0)" d="M0.05,-0.04 L0,0.2"/><path transform="translate(4.7200,0)" d="M0.21,-1 A0.21,0.5 0 0 1 0.21,0 A0.21,0.5 0 0 1 0.21,-1 Z"/><path transform="translate(5.4800,0)" d="M0.04,0 C0.29,-0.1 0.44,-0.3 0.44,-0.64 M0.44,-0.78 V-0.64 A0.22,0.22 0 0 1 0.22,-0.42 A0.22,0.22 0 0 1 0,-0.64 V-0.78 A0.22,0.22 0 0 1 0.22,-1 A0.22,0.22 0 0 1 0.44,-0.78"/></g>
<g class="t" stroke-width="1.8" transform="translate(1261.50,353.10) rotate(-90) scale(27.9833,26.9000)"><path transform="translate(0.0000,0)" d="M0.26,-1 L0,-0.22 H0.5 M0.38,-0.55 V0"/><path transform="translate(0.8400,0)" d="M0.05,-0.04 L0,0.2"/><path transform="translate(1.2300,0)" d="M0.22,-1 H0.21999999999999997 A0.2,0.2 0 0 1 0.42,-0.8 V-0.75 A0.2,0.2 0 0 1 0.21999999999999997,-0.55 H0.22 A0.2,0.2 0 0 1 0.02,-0.75 V-0.8 A0.2,0.2 0 0 1 0.22,-1 Z M0.22,-0.55 H0.22 A0.22,0.22 0 0 1 0.44,-0.33000000000000007 V-0.22 A0.22,0.22 0 0 1 0.22,0 H0.22 A0.22,0.22 0 0 1 0,-0.22 V-0.33000000000000007 A0.22,0.22 0 0 1 0.22,-0.55 Z"/><path transform="translate(2.0100,0)" d="M0,-0.78 A0.22,0.22 0 0 1 0.22,-1 A0.22,0.22 0 0 1 0.44,-0.78 V-0.68 L0,0 H0.44"/><path transform="translate(2.7900,0)" d="M0,-0.36 H0.42"/><path transform="translate(3.5500,0)" d="M0.26,-1 L0,-0.22 H0.5 M0.38,-0.55 V0"/><path transform="translate(4.3900,0)" d="M0.05,-0.04 L0,0.2"/><path transform="translate(4.7800,0)" d="M0.04,0 C0.29,-0.1 0.44,-0.3 0.44,-0.64 M0.44,-0.78 V-0.64 A0.22,0.22 0 0 1 0.22,-0.42 A0.22,0.22 0 0 1 0,-0.64 V-0.78 A0.22,0.22 0 0 1 0.22,-1 A0.22,0.22 0 0 1 0.44,-0.78"/><path transform="translate(5.5600,0)" d="M0,-1 H0.2 A0.24,0.25 0 0 1 0.2,-0.5 H0.1 M0.2,-0.5 A0.24,0.25 0 0 1 0.2,0 H0"/></g>
<g class="t" stroke-width="3.8" transform="translate(440.90,521.90) scale(30.1786,26.1000)"><path transform="translate(0.0000,0)" d="M0,0 L0.28,-1 L0.56,0 M0.085,-0.3 H0.475"/></g>
<g class="t" stroke-width="3.8" transform="translate(724.90,521.90) scale(36.0714,26.1000)"><path transform="translate(0.0000,0)" d="M0,0 L0.28,-1 L0.56,0 M0.085,-0.3 H0.475"/></g>
<g class="t" stroke-width="3.9" transform="translate(1099.85,615.85) scale(27.8340,26.0000)"><path transform="translate(0.0000,0)" d="M0.5,-1 H0.22 A0.22,0.22 0 0 0 0,-0.78 V-0.74 A0.22,0.22 0 0 0 0.22,-0.52 H0.28 A0.22,0.24 0 0 1 0.5,-0.28 V-0.22 A0.22,0.22 0 0 1 0.28,0 H0"/><path transform="translate(0.8400,0)" d="M0.46,-1 H0 V0 H0.46 M0,-0.52 H0.4"/><path transform="translate(1.6400,0)" d="M0.46,-1 H0.2 A0.2,0.2 0 0 0 0,-0.8 V-0.2 A0.2,0.2 0 0 0 0.2,0 H0.46"/><path transform="translate(2.4400,0)" d="M0.46,-1 H0.2 A0.2,0.2 0 0 0 0,-0.8 V-0.2 A0.2,0.2 0 0 0 0.2,0 H0.46"/><path transform="translate(3.2400,0)" d="M0,0 V-1"/><path transform="translate(3.5800,0)" d="M0.22,-1 H0.30000000000000004 A0.22,0.22 0 0 1 0.52,-0.78 V-0.22 A0.22,0.22 0 0 1 0.30000000000000004,0 H0.22 A0.22,0.22 0 0 1 0,-0.22 V-0.78 A0.22,0.22 0 0 1 0.22,-1 Z"/><path transform="translate(4.4400,0)" d="M0,0 V-1 L0.5,0 V-1"/></g>
<g class="t" stroke-width="3.9" transform="translate(1271.15,615.85) scale(30.0901,26.0000)"><path transform="translate(0.0000,0)" d="M0,0 L0.28,-1 L0.56,0 M0.085,-0.3 H0.475"/><path transform="translate(0.9000,0)" d="M0,-0.36 H0.42"/><path transform="translate(1.6600,0)" d="M0,0 L0.28,-1 L0.56,0 M0.085,-0.3 H0.475"/></g>
</svg>
<div class="txt" style="left:57.0px;top:928.19px;font-size:31.06px;">Mechanische Eigenschaften:</div>
<div class="txt" style="left:56.2px;top:998.53px;font-size:31.13px;">- Oberflächenhärte: min. 500HV03</div>
<div class="txt" style="left:56.2px;top:1032.59px;font-size:31.06px;">- Kernhärte: 270-420HV03</div>
<div class="txt" style="left:56.2px;top:1068.56px;font-size:31.2px;">- Einsatzhärtungstiefe 0,10-0,20mm</div>
<div class="txt" style="left:56.2px;top:1104.69px;font-size:31.28px;">- Mindestbruchdrehmomente 11,0Nm</div>
<div class="txt" style="left:56.2px;top:1138.66px;font-size:31.2px;">- restliche Wertenach DIN7500</div>
<div class="txt" style="left:722.5px;top:922.26px;font-size:31.2px;">Oberfläche:</div>
<div class="txt" style="left:722.5px;top:957.46px;font-size:31.2px;">- A3K (ChromVI-frei)</div>
<div class="txt" style="left:722.5px;top:992.13px;font-size:31.02px;">- 72Std. ohne Grundmetallkorrosion</div>
<div class="txt" style="left:727.0px;top:1116.13px;font-size:46.15px;">Würth-Nr.: 0934500633</div>
</body></html>
